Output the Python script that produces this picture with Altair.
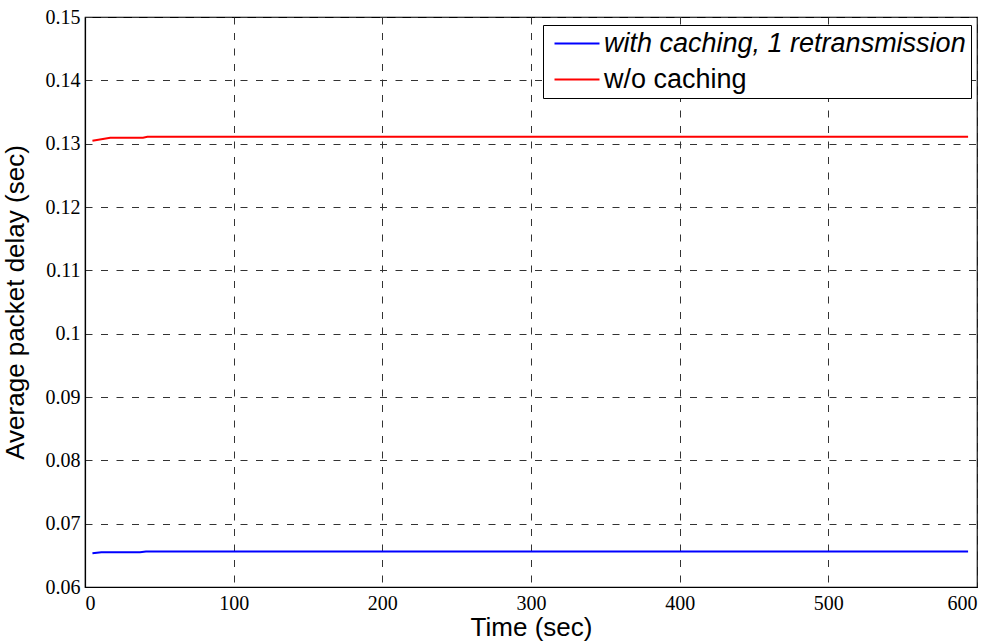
import altair as alt
import pandas as pd

# Key points
blue_t = [5, 11, 37, 41, 594]
blue_v = [0.06532, 0.06548, 0.06548, 0.0656, 0.0656]
red_t = [5, 17, 39, 42, 594]
red_v = [0.13047, 0.13095, 0.13095, 0.1311, 0.1311]

series_names = ["with caching, 1 retransmission", "w/o caching"]
series_colors = ["#0000ff", "#ff0000"]

x_ticks = [0, 100, 200, 300, 400, 500, 600]
y_ticks = [0.06, 0.07, 0.08, 0.09, 0.10, 0.11, 0.12, 0.13, 0.14, 0.15]

rows = []
for t, v in zip(blue_t, blue_v):
    rows.append({"time": t, "delay": v, "series": series_names[0]})
for t, v in zip(red_t, red_v):
    rows.append({"time": t, "delay": v, "series": series_names[1]})
df = pd.DataFrame(rows)

grid_dash = [7, 8.5]
serif = "Times New Roman"

chart = alt.Chart(df).mark_line(strokeWidth=2).encode(
    x=alt.X("time:Q", scale=alt.Scale(domain=[0, 600], nice=False),
            axis=alt.Axis(values=x_ticks, title="Time (sec)", format="d",
                          labelFont=serif, labelFontSize=20)),
    y=alt.Y("delay:Q", scale=alt.Scale(domain=[0.06, 0.15], nice=False, zero=False),
            axis=alt.Axis(values=y_ticks, title="Average packet delay (sec)", format=".2~f",
                          labelFont=serif, labelFontSize=20)),
    color=alt.Color("series:N",
                    scale=alt.Scale(domain=series_names, range=series_colors),
                    sort=series_names,
                    legend=alt.Legend(
                        title=None, orient="none", legendX=458, legendY=8,
                        symbolType="M-2.5,0H2.5", symbolSize=324, symbolStrokeWidth=2,
                        symbolOffset=15.5,
                        labelFont="Liberation Sans", labelFontSize=27, labelLimit=800,
                        labelFontStyle={"expr": "datum.index == 0 ? 'italic' : 'normal'"},
                        labelColor="black", labelOffset=13.5, rowPadding=8,
                        strokeColor="black", fillColor="white", padding=5,
                        cornerRadius=0,
                    )),
).properties(
    width=892, height=570,
    padding={"left": 85, "top": 17, "right": 20, "bottom": 56},
    autosize=alt.AutoSizeParams(type="none"),
    background="white",
).configure_view(
    stroke="black", strokeWidth=1.2,
).configure_axis(
    grid=True, gridColor="#333333", gridDash=grid_dash, gridOpacity=1, gridWidth=1,
    domain=True, domainColor="black", domainWidth=1.2,
    ticks=False, tickSize=0,
    labelColor="black",
    titleFont="Liberation Sans", titleFontSize=26, titleFontWeight="normal", titleColor="black",
).configure_axisX(
    labelPadding=6, titlePadding=1,
).configure_axisY(
    labelPadding=5, titlePadding=17,
)

chart.save("out.html", embed_options={"renderer": "svg", "actions": False})
